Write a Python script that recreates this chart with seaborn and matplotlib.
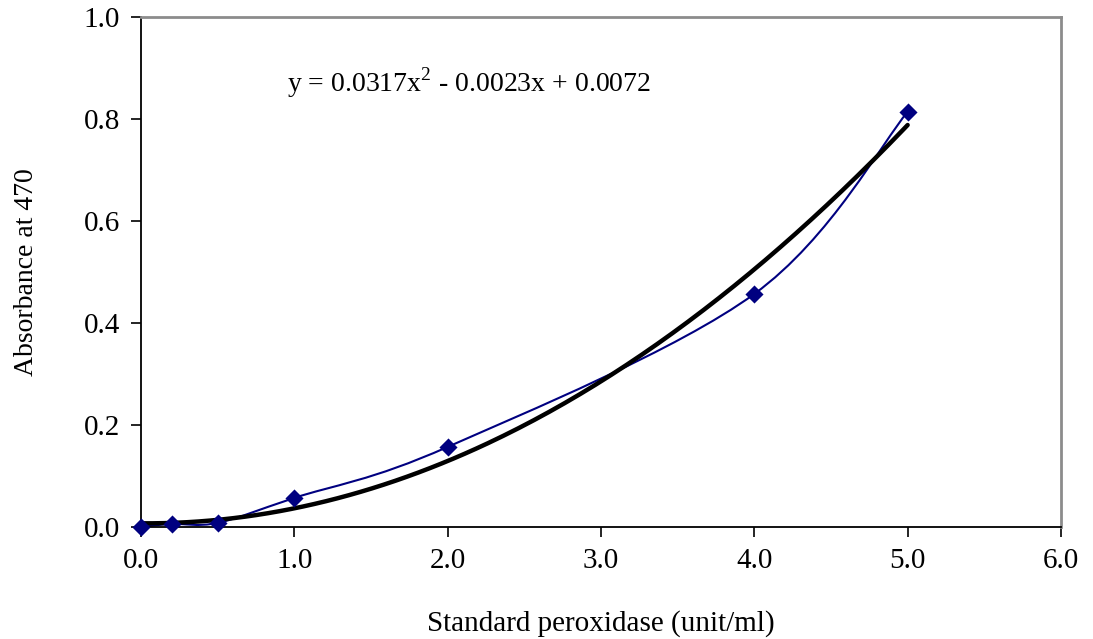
import numpy as np
import pandas as pd
import seaborn as sns
import matplotlib.pyplot as plt
from matplotlib.path import Path
from matplotlib.patches import PathPatch

# --- data ---
peroxidase = [0.0, 0.2, 0.5, 1.0, 2.0, 4.0, 5.0]
absorbance = [0.0, 0.006, 0.008, 0.057, 0.157, 0.457, 0.814]
trend_coef = [0.0317, -0.0023, 0.0072]   # y = a x^2 + b x + c (Excel trendline)
x_ticks = [0.0, 1.0, 2.0, 3.0, 4.0, 5.0, 6.0]
y_ticks = [0.0, 0.2, 0.4, 0.6, 0.8, 1.0]

df = pd.DataFrame({'x': peroxidase, 'y': absorbance})

sns.set_theme(style="ticks")
plt.rcParams['font.family'] = ['Liberation Serif', 'DejaVu Serif']
plt.rcParams['mathtext.fontset'] = 'custom'
plt.rcParams['mathtext.rm'] = 'Liberation Serif'
plt.rcParams['text.color'] = 'black'
plt.rcParams['axes.labelcolor'] = 'black'

fig = plt.figure(figsize=(10.93, 6.39), dpi=100)
ax = fig.add_axes([0.129, 0.1753, 0.8417, 0.7981])

navy = '#000080'

# Excel-style smoothed line (Catmull-Rom as cubic Bezier through the points)
pts = df[['x', 'y']].to_numpy()
verts = [tuple(pts[0])]
codes = [Path.MOVETO]
for i in range(len(pts) - 1):
    p0 = pts[i - 1] if i > 0 else pts[i]
    p1, p2 = pts[i], pts[i + 1]
    p3 = pts[i + 2] if i + 2 < len(pts) else pts[i + 1]
    c1 = p1 + (p2 - p0) / 6
    c2 = p2 - (p3 - p1) / 6
    verts += [tuple(c1), tuple(c2), tuple(p2)]
    codes += [Path.CURVE4] * 3
ax.add_patch(PathPatch(Path(verts, codes), fill=False, edgecolor=navy, lw=1.5, zorder=2))

# polynomial trendline
xt = np.linspace(0, 5, 200)
yt = np.polyval(trend_coef, xt)
sns.lineplot(x=xt, y=yt, ax=ax, color='black', lw=3.2, zorder=3)

# markers
sns.scatterplot(data=df, x='x', y='y', ax=ax, marker='D', s=85, color=navy,
                edgecolor=navy, linewidth=0, zorder=4, clip_on=False)

ax.set_xlim(0, 6)
ax.set_ylim(0, 1.0)
ax.set_xticks(x_ticks)
ax.set_yticks(y_ticks)
ax.set_xticklabels([f'{v:.1f}' for v in x_ticks])
ax.set_yticklabels([f'{v:.1f}' for v in y_ticks])
ax.tick_params(axis='both', direction='out', length=7, width=1.2, colors='black',
               labelsize=21, pad=8)

for side in ['left', 'bottom']:
    ax.spines[side].set_color('black')
    ax.spines[side].set_linewidth(1.3)
for side in ['top', 'right']:
    ax.spines[side].set_visible(True)
    ax.spines[side].set_color('#8c8c8c')
    ax.spines[side].set_linewidth(2)

ax.set_xlabel('Standard peroxidase (unit/ml)', fontsize=21, labelpad=26)
ax.set_ylabel('Absorbance at 470', fontsize=20, labelpad=32)

ax.text(0.95, 0.872, r'y = 0.0317x$^{2}$ - 0.0023x + 0.0072', fontsize=20,
        va='center', ha='left')

fig.savefig('out.png', dpi=100)
